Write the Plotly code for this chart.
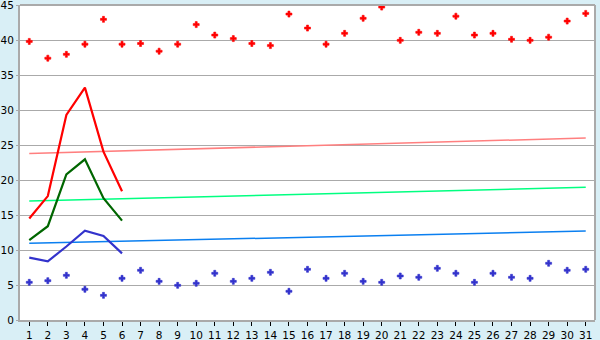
import plotly.graph_objects as go

days = list(range(1, 32))
max_points = [39.8, 37.4, 37.95, 39.4, 42.95, 39.4, 39.5, 38.4, 39.4, 42.2,
              40.7, 40.2, 39.5, 39.2, 43.7, 41.7, 39.4, 40.95, 43.1, 44.7,
              39.95, 41.1, 40.95, 43.4, 40.7, 40.95, 40.1, 39.95, 40.4, 42.7, 43.8]
min_points = [5.38, 5.62, 6.38, 4.38, 3.52, 5.95, 7.1, 5.52, 4.95, 5.24,
              6.67, 5.52, 5.95, 6.81, 4.1, 7.24, 5.95, 6.67, 5.52, 5.38,
              6.29, 6.1, 7.38, 6.67, 5.38, 6.67, 6.1, 5.95, 8.1, 7.1, 7.24]

line_days = [1, 2, 3, 4, 5, 6]
red_line = [14.5, 17.7, 29.3, 33.2, 24.05, 18.4]
green_line = [11.4, 13.4, 20.8, 22.95, 17.4, 14.2]
blue_line = [8.9, 8.38, 10.5, 12.76, 12.0, 9.52]

trend_days = [1, 31]
trend_red = [23.8, 26.0]
trend_green = [17.0, 18.96]
trend_blue = [10.95, 12.7]

fig = go.Figure()
fig.add_trace(go.Scatter(x=trend_days, y=trend_red, mode="lines",
                         line=dict(color="#ff7f7f", width=1.5)))
fig.add_trace(go.Scatter(x=trend_days, y=trend_green, mode="lines",
                         line=dict(color="#00ff80", width=1.5)))
fig.add_trace(go.Scatter(x=trend_days, y=trend_blue, mode="lines",
                         line=dict(color="#0a7ff0", width=1.5)))
fig.add_trace(go.Scatter(x=line_days, y=red_line, mode="lines",
                         line=dict(color="#ff0000", width=2.2)))
fig.add_trace(go.Scatter(x=line_days, y=green_line, mode="lines",
                         line=dict(color="#006600", width=2.2)))
fig.add_trace(go.Scatter(x=line_days, y=blue_line, mode="lines",
                         line=dict(color="#3333cc", width=2.2)))
fig.add_trace(go.Scatter(x=days, y=max_points, mode="markers",
                         marker=dict(symbol="cross", size=5, color="#ff0000",
                                     line=dict(width=0.6, color="#ff0000"))))
fig.add_trace(go.Scatter(x=days, y=min_points, mode="markers",
                         marker=dict(symbol="cross", size=5, color="#3333cc",
                                     line=dict(width=0.6, color="#3333cc"))))

fig.update_layout(
    width=600, height=340,
    margin=dict(l=20, r=5, t=5, b=20),
    paper_bgcolor="#d9eff6", plot_bgcolor="#ffffff",
    showlegend=False,
    font=dict(family="DejaVu Sans", size=10.5, color="#000000"),
    xaxis=dict(range=[0.5, 31.5], tickvals=days, ticktext=[str(d) for d in days],
               automargin=False, ticklabeloverflow="allow",
               showgrid=False, zeroline=False, showline=True, linecolor="#aaaaaa",
               linewidth=2, mirror=False, ticks="outside", ticklen=4, tickcolor="#000000",
               tickwidth=1, tickfont=dict(size=10.5)),
    yaxis=dict(range=[0, 45], tickvals=[0, 5, 10, 15, 20, 25, 30, 35, 40, 45],
               automargin=False, ticklabeloverflow="allow",
               showgrid=True, gridcolor="#aaaaaa", gridwidth=1,
               zeroline=False, showline=True, linecolor="#aaaaaa", linewidth=2,
               ticks="outside", ticklen=2, tickcolor="#aaaaaa", tickfont=dict(size=10.5)),
)
fig.add_shape(type="line", xref="paper", yref="paper", x0=1, x1=1, y0=0, y1=1,
              line=dict(color="#aaaaaa", width=2))
fig.add_shape(type="line", xref="paper", yref="paper", x0=0, x1=1, y0=1, y1=1,
              line=dict(color="#aaaaaa", width=2))

fig.write_html("out.html")
